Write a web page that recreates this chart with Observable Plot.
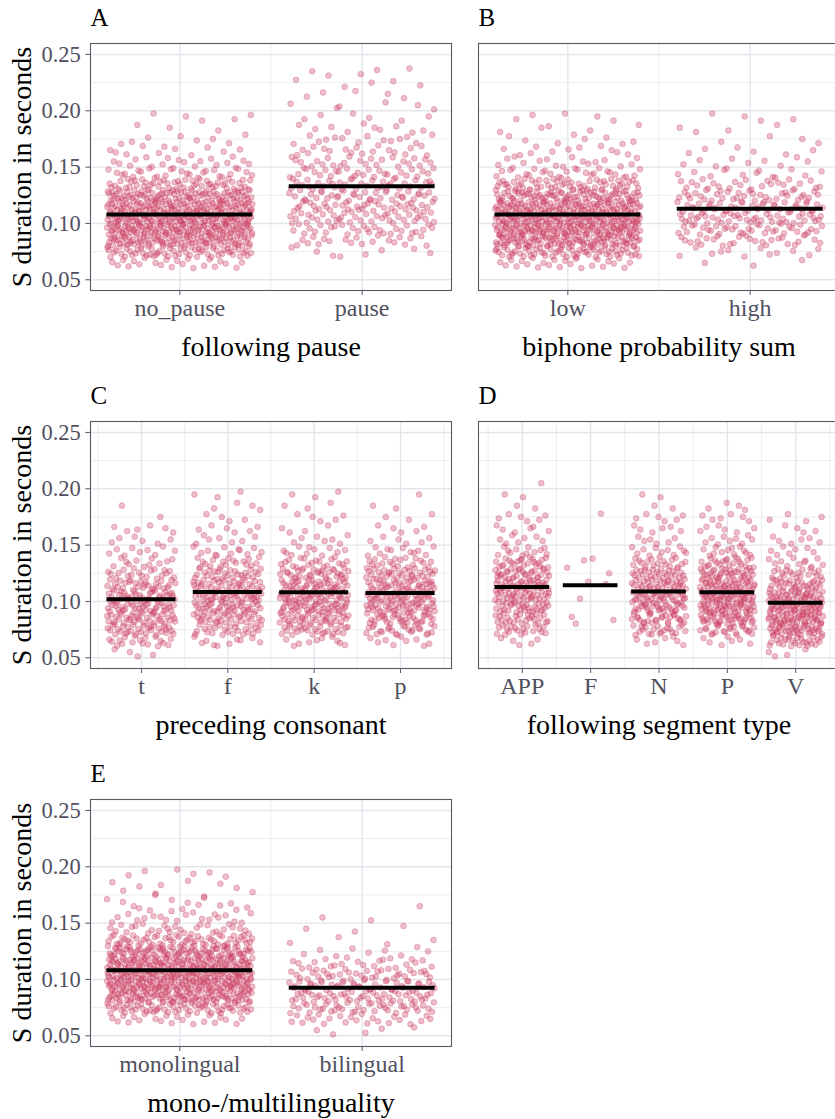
<!DOCTYPE html>
<html><head><meta charset="utf-8">
<script src="https://cdn.jsdelivr.net/npm/d3@7"></script>
<script src="https://cdn.jsdelivr.net/npm/@observablehq/plot@0.6"></script>
<style>
html,body{margin:0;padding:0;background:#fff;}
#wrap{position:relative;width:835px;height:1119px;overflow:hidden;background:#fff;}
.panel{position:absolute;overflow:visible;}
.panel svg{overflow:visible;max-width:none !important;}
</style></head><body><div id="wrap"></div>
<script>
// ---------- data ----------
// y axis ticks (seconds)
const yTicks = [0.05, 0.10, 0.15, 0.20, 0.25];
const yMinor = [0.075, 0.125, 0.175, 0.225];
const yLabel = "S duration in seconds";
// counts of tokens per 10 ms duration band, first band = 0.05–0.06 s
const binStart = 0.05, binWidth = 0.01;

const pauseCategories = ["no_pause", "pause"];
const pauseBins = {
  no_pause: [0, 22, 60, 92, 108, 110, 100, 85, 52, 27, 18, 11, 8, 3, 5],
  pause:    [0, 0, 8, 20, 28, 35, 38, 36, 34, 28, 24, 18, 14, 10, 6, 6, 5, 5, 5]
};
const pauseMeans = [0.108, 0.133];

const biphoneCategories = ["low", "high"];
const biphoneBins = {
  low:  [0, 24, 64, 96, 110, 110, 100, 80, 52, 27, 16, 11, 8, 5, 5],
  high: [0, 3, 12, 26, 36, 42, 40, 34, 24, 13, 9, 6, 4, 4, 4]
};
const biphoneMeans = [0.108, 0.113];

const consonantCategories = ["t", "f", "k", "p"];
const consonantBins = {
  t: [4, 18, 30, 34, 36, 34, 28, 19, 11, 9, 6, 6, 1, 1],
  f: [0, 10, 24, 31, 36, 38, 33, 26, 18, 12, 7, 6, 4, 4, 3],
  k: [0, 10, 27, 34, 41, 41, 36, 31, 18, 11, 7, 4, 5, 3, 3],
  p: [0, 9, 24, 32, 39, 39, 36, 31, 19, 11, 6, 5, 3, 2, 1]
};
const consonantMeans = [0.102, 0.1084, 0.1081, 0.1075];

const segmentCategories = ["APP", "F", "N", "P", "V"];
const segmentBins = {
  APP: [0, 5, 19, 24, 29, 33, 33, 29, 22, 12, 7, 6, 6, 2, 2, 1],
  N:   [0, 7, 20, 26, 31, 33, 31, 26, 18, 11, 6, 6, 6, 2, 2],
  P:   [0, 7, 22, 36, 41, 43, 38, 33, 21, 12, 9, 6, 6, 4],
  V:   [4, 26, 38, 44, 43, 38, 29, 19, 11, 7, 6, 4, 4]
};
// the few "F" tokens, read one by one (duration, horizontal jitter)
const segmentFValues = [0.178, 0.130, 0.1365, 0.138, 0.125, 0.1176, 0.1153, 0.1025, 0.0863, 0.0803, 0.0836];
const segmentFJitter = [0.15, -0.343, -0.097, 0.029, 0.27, -0.034, 0.222, -0.155, -0.275, -0.217, 0.333];
const segmentMeans = [0.1129, 0.1144, 0.1088, 0.1081, 0.0989];

const lingualCategories = ["monolingual", "bilingual"];
const lingualBins = {
  monolingual: [0, 22, 64, 98, 115, 115, 106, 90, 56, 28, 19, 12, 8, 6, 6],
  bilingual:   [5, 24, 39, 45, 43, 35, 21, 9, 4, 3, 2, 1]
};
const lingualMeans = [0.1082, 0.0927];

// ---------- styling ----------
const FONT = '"Liberation Serif", "Times New Roman", serif';
const pointColor = "#c8365c";
const gridColor = "#e3e5ec";
const borderColor = "#575766";
const tickTextColor = "#50505f";
const yDomain = [0.0405, 0.2597];
const jitterWidth = 0.4;

function halton(i, b) { let f = 1, r = 0; while (i > 0) { f /= b; r += f * (i % b); i = Math.floor(i / b); } return r; }

function buildPoints(cats, bins, explicit) {
  const pts = [];
  cats.forEach((c, ci) => {
    if (explicit && explicit[c]) {
      const {values, jitter} = explicit[c];
      values.forEach((v, i) => pts.push({x: ci + 1 + jitter[i], y: v}));
      return;
    }
    let g = 0;
    bins[c].forEach((cnt, k) => {
      for (let j = 0; j < cnt; j++) {
        const fy = halton(j + 1, 2);
        const fx = halton(g + 1 + ci * 101, 3);
        pts.push({x: ci + 1 + (fx - 0.5) * 2 * jitterWidth, y: binStart + binWidth * (k + fy)});
        g++;
      }
    });
  });
  return pts;
}

const panels = [
  {letter: "A", cats: pauseCategories, bins: pauseBins, means: pauseMeans, title: "following pause", left: 0, top: 0, showY: true},
  {letter: "B", cats: biphoneCategories, bins: biphoneBins, means: biphoneMeans, title: "biphone probability sum", left: 460, top: 0, showY: false},
  {letter: "C", cats: consonantCategories, bins: consonantBins, means: consonantMeans, title: "preceding consonant", left: 0, top: 378, showY: true},
  {letter: "D", cats: segmentCategories, bins: segmentBins, means: segmentMeans, title: "following segment type", left: 460, top: 378, showY: false,
   explicit: {F: {values: segmentFValues, jitter: segmentFJitter}}},
  {letter: "E", cats: lingualCategories, bins: lingualBins, means: lingualMeans, title: "mono-/multilinguality", left: 0, top: 756, showY: true}
];

const wrap = document.getElementById("wrap");
for (const p of panels) {
  const n = p.cats.length;
  const ext = (n - 1 + 2 * jitterWidth);
  const xDomain = [1 - jitterWidth - 0.05 * ext, n + jitterWidth + 0.05 * ext];
  const xMajor = d3.range(1, n + 1);
  const xMinor = d3.range(0.5, n + 1, 1).filter(v => v > xDomain[0] && v < xDomain[1]);
  const pts = buildPoints(p.cats, p.bins, p.explicit);
  const meanRows = p.means.map((m, i) => ({x1: i + 1 - jitterWidth, x2: i + 1 + jitterWidth, y: m}));
  const marginLeft = p.showY ? 90 : 18;
  const frameW = 361;
  const marginRight = p.showY ? 9 : 6;
  const width = marginLeft + frameW + marginRight;
  const chart = Plot.plot({
    width, height: 370,
    marginTop: 43, marginBottom: 80, marginLeft, marginRight,
    x: {domain: xDomain, axis: null},
    y: {domain: yDomain, axis: null},
    style: {fontFamily: FONT, fontSize: "24px", color: "#000", background: "#fff", overflow: "visible", maxWidth: "none"},
    marks: [
      Plot.ruleY(yMinor, {stroke: gridColor, strokeWidth: 0.7}),
      Plot.ruleX(xMinor, {stroke: gridColor, strokeWidth: 0.7}),
      Plot.ruleY(yTicks, {stroke: gridColor, strokeWidth: 1.4}),
      Plot.ruleX(xMajor, {stroke: gridColor, strokeWidth: 1.4}),
      Plot.dot(pts, {x: "x", y: "y", r: 2.9, fill: pointColor, fillOpacity: 0.33, stroke: pointColor, strokeOpacity: 0.4, strokeWidth: 0.7}),
      Plot.ruleY(meanRows, {x1: "x1", x2: "x2", y: "y", stroke: "#000", strokeWidth: 4}),
      Plot.frame({stroke: borderColor, strokeWidth: 1.1}),
      Plot.axisX({ticks: xMajor, tickFormat: i => p.cats[i - 1], tickSize: 5, tickPadding: 3, stroke: borderColor, fill: tickTextColor, label: null, fontSize: 24}),
      p.showY ? Plot.axisY({ticks: yTicks, tickFormat: d3.format(".2f"), tickSize: 4.7, tickPadding: 5, stroke: borderColor, fill: tickTextColor, label: null, fontSize: 22.5}) : null,
      Plot.text([p.title], {text: d => d, frameAnchor: "bottom", dy: 65, lineAnchor: "bottom", fontSize: 28, fill: "#000"}),
      p.showY ? Plot.text([yLabel], {text: d => d, frameAnchor: "left", dx: -60, rotate: -90, lineAnchor: "bottom", textAnchor: "middle", fontSize: 28, fill: "#000"}) : null,
      Plot.text([p.letter], {text: d => d, frameAnchor: "top-left", textAnchor: "start", lineAnchor: "bottom", dy: -18, fontSize: 25, fill: "#000"})
    ].filter(Boolean)
  });
  chart.style.maxWidth = "none";
  const div = document.createElement("div");
  div.className = "panel";
  div.style.left = p.left + "px";
  div.style.top = p.top + "px";
  div.style.width = width + "px";
  div.appendChild(chart);
  wrap.appendChild(div);
}
</script></body></html>
